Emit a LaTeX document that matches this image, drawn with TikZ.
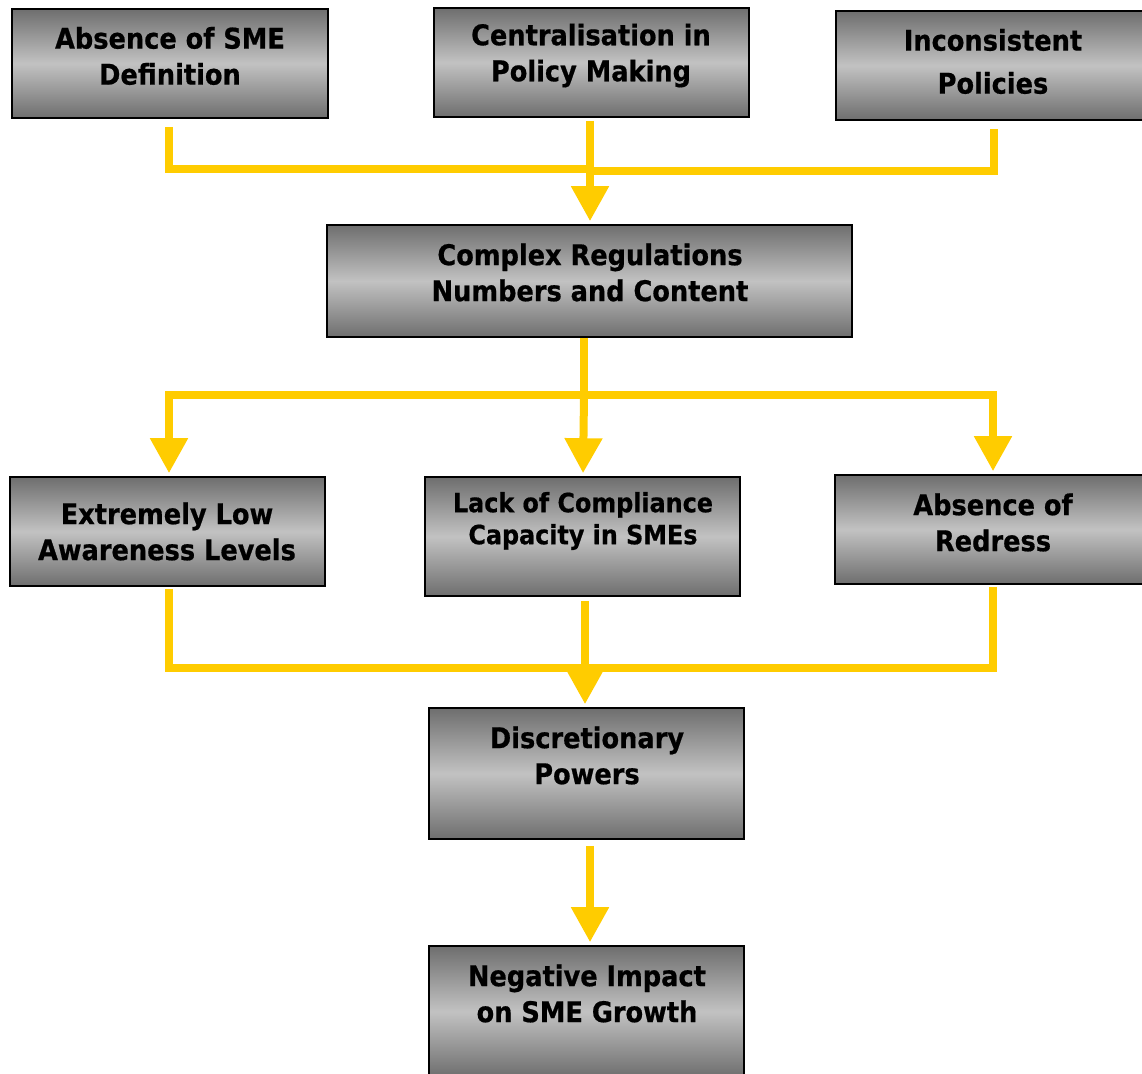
\documentclass[tikz,border=0pt]{standalone}
\usepackage{fontspec}
\newfontfamily\boxfont{DejaVu Sans Condensed}[BoldFeatures={FakeBold=0.6}]
\usetikzlibrary{arrows.meta}
\definecolor{flowyellow}{HTML}{FFCC00}
\definecolor{boxdark}{HTML}{6E6E6E}
\definecolor{boxlight}{HTML}{C2C2C2}
\tikzset{
  box/.style={draw=black, line width=1.6pt, rectangle, inner sep=0pt,
    top color=boxdark, bottom color=boxdark, middle color=boxlight},
  lbl/.style={align=center, font=\boxfont\bfseries\fontsize{28.5}{36}\selectfont, inner sep=0pt},
  lblsmall/.style={align=center, font=\boxfont\bfseries\fontsize{26.5}{32}\selectfont, inner sep=0pt},
  flow/.style={draw=flowyellow, line width=8pt, line join=miter, line cap=butt},
  flowarrow/.style={flow, -{Triangle[width=36pt,length=35pt]}, shorten >=3pt}
}
\begin{document}
\begin{tikzpicture}[x=1pt,y=-1pt]
\useasboundingbox (0,0) rectangle (1142,1073);
\clip (0,0) rectangle (1142,1073);
% boxes
\node[box, minimum width=316pt, minimum height=109pt] (b1) at (170,63.5) {};
\node[box, minimum width=315pt, minimum height=109pt] (b2) at (591.5,62.5) {};
\node[box, minimum width=315pt, minimum height=109pt] (b3) at (993.5,65.5) {};
\node[box, minimum width=525pt, minimum height=112pt] (b4) at (589.5,281) {};
\node[box, minimum width=315pt, minimum height=109pt] (b5) at (167.5,531.5) {};
\node[box, minimum width=315pt, minimum height=119pt] (b6) at (582.5,536.5) {};
\node[box, minimum width=315pt, minimum height=109pt] (b7) at (992.5,529.5) {};
\node[box, minimum width=315pt, minimum height=131pt] (b8) at (586.5,773.5) {};
\node[box, minimum width=315pt, minimum height=131pt] (b9) at (586.5,1011.5) {};
% texts
\node[lbl] (t1) at (170,56) {Absence of SME\\Definition};
\node[lbl] (t2) at (591,55.5) {Centralisation in\\Policy Making};
\node[lbl, font=\boxfont\bfseries\fontsize{28.5}{43}\selectfont] (t3) at (993,61.5) {Inconsistent\\Policies};
\node[lbl] (t4) at (590,272.5) {Complex Regulations\\Numbers and Content};
\node[lbl] (t5) at (167,531.5) {Extremely Low\\Awareness Levels};
\node[lblsmall] (t6) at (583,521) {Lack of Compliance\\Capacity in SMEs};
\node[lbl] (t7) at (993,522.5) {Absence of\\Redress};
\node[lbl] (t8) at (587,755.5) {Discretionary\\Powers};
\node[lbl] (t9) at (587,993.5) {Negative Impact\\on SME Growth};
% junction coordinates
\coordinate (j1) at (590,169);
\coordinate (j1r) at (590,171);
\coordinate (j2) at (584,395);
\coordinate (j3) at (585,668);
% top row to b4
\draw[flow] ([xshift=-1pt,yshift=-8pt]b1.south) |- (j1);
\draw[flow] ([yshift=-8pt]b3.south) |- (j1r);
\draw[flowarrow] ([xshift=-1.5pt,yshift=-3pt]b2.south) -- ([xshift=0.5pt]b4.north);
% b4 to middle row
\draw[flow] ([xshift=-5.5pt]b4.south) -- (j2);
\draw[flowarrow] (j2) -| ([xshift=1.5pt]b5.north);
\draw[flowarrow] (j2) -| ([xshift=0.5pt]b7.north);
\draw[flowarrow] (j2) -- ([xshift=0.5pt]b6.north);
% middle row to b8
\draw[flow] ([xshift=1.5pt,yshift=-2pt]b5.south) |- (j3);
\draw[flow] ([xshift=0.5pt,yshift=-2pt]b7.south) |- (j3);
\draw[flowarrow] ([xshift=2.5pt,yshift=-4pt]b6.south) -- ([xshift=-1.5pt]b8.north);
% b8 to b9
\draw[flowarrow] ([xshift=3.5pt,yshift=-6pt]b8.south) -- ([xshift=3.5pt]b9.north);
\end{tikzpicture}
\end{document}
